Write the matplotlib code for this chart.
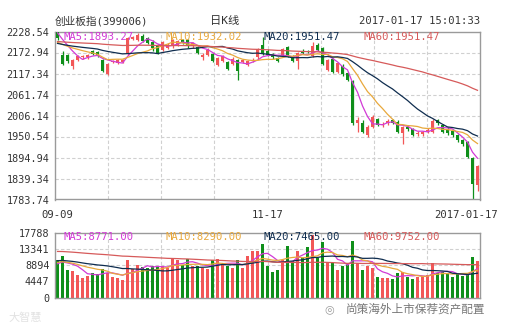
import matplotlib
matplotlib.use("Agg")
import matplotlib.pyplot as plt
import numpy as np
import pandas as pd

# ---------------- data ----------------
opens = [2226, 2167, 2166, 2136, 2154, 2160, 2160, 2176, 2174, 2154,
         2117, 2148, 2145, 2148, 2169, 2209, 2207, 2216, 2211, 2202,
         2194, 2180, 2185, 2189, 2194, 2207, 2207, 2189, 2187, 2160,
         2167, 2169, 2139, 2150, 2148, 2142, 2154, 2149, 2141, 2151,
         2160, 2192, 2178, 2169, 2158, 2165, 2187, 2163, 2150, 2178,
         2177, 2163, 2194, 2185, 2127, 2156, 2122, 2137, 2118, 2098,
         1987, 1985, 1954, 1976, 1996, 1981, 1985, 1994, 1990, 1959,
         1975, 1970, 1957, 1956, 1965, 1963, 1994, 1981, 1968, 1965,
         1954, 1940, 1935, 1894, 1822]
highs = [2228.54, 2178, 2170, 2157, 2166, 2166, 2169, 2179, 2176, 2157,
         2146, 2153, 2157, 2156, 2213, 2217, 2225, 2222, 2214, 2205,
         2196, 2203, 2197, 2210, 2206, 2210, 2210, 2201, 2190, 2172,
         2184, 2172, 2160, 2166, 2151, 2160, 2157, 2156, 2154, 2158,
         2186, 2213, 2181, 2172, 2161, 2186, 2191, 2166, 2175, 2181,
         2180, 2202, 2198, 2188, 2157, 2159, 2147, 2142, 2121, 2100,
         2003, 1995, 1980, 2008, 2000, 1988, 1996, 1998, 1994, 1979,
         1978, 1973, 1964, 1966, 1972, 1996, 1998, 1984, 1976, 1970,
         1957, 1944, 1938, 1897, 1876]
lows = [2206, 2140, 2146, 2130, 2150, 2157, 2157, 2166, 2160, 2122,
        2114, 2145, 2142, 2144, 2166, 2206, 2204, 2200, 2195, 2176,
        2168, 2177, 2182, 2186, 2191, 2195, 2186, 2186, 2169, 2152,
        2164, 2147, 2136, 2147, 2127, 2139, 2099, 2146, 2138, 2148,
        2157, 2166, 2164, 2157, 2147, 2162, 2162, 2147, 2128, 2169,
        2171, 2160, 2177, 2139, 2124, 2118, 2119, 2112, 2097, 1980,
        1963, 1960, 1950, 1972, 1978, 1976, 1982, 1984, 1960, 1932,
        1966, 1951, 1952, 1952, 1960, 1960, 1982, 1960, 1955, 1950,
        1937, 1926, 1894, 1783.74, 1805]
closes = [2211, 2142, 2150, 2154, 2164, 2163, 2167, 2169, 2163, 2125,
          2143, 2150, 2154, 2153, 2211, 2213, 2220, 2204, 2198, 2185,
          2172, 2200, 2194, 2207, 2203, 2198, 2189, 2198, 2172, 2166,
          2180, 2150, 2158, 2163, 2130, 2156, 2125, 2152, 2150, 2154,
          2183, 2169, 2167, 2160, 2150, 2183, 2165, 2150, 2172, 2172,
          2174, 2189, 2180, 2142, 2154, 2121, 2144, 2116, 2100, 1985,
          1994, 1963, 1976, 2003, 1981, 1984, 1992, 1987, 1963, 1976,
          1970, 1954, 1960, 1963, 1968, 1992, 1985, 1963, 1959, 1954,
          1940, 1930, 1896, 1826, 1873]
volumes = [10425, 11537, 7645, 7367, 6255, 5504, 5977, 6894, 6500, 7840,
           6894, 5782, 5365, 4865, 10425, 7840, 9035, 8395, 8100, 8700,
           8600, 8600, 8100, 10620, 10425, 9035, 10620, 8600, 8700, 8100,
           7840, 10425, 10620, 9600, 8600, 8100, 10425, 8100, 11537, 12930,
           12930, 14870, 8600, 7100, 7645, 10425, 14316, 10000, 12930, 10800,
           13850, 17100, 10800, 15240, 9600, 9400, 7645, 8600, 9400, 15510,
           9400, 7645, 8600, 8100, 5782, 5300, 5500, 5100, 6700, 7100,
           5782, 5200, 5782, 5977, 6255, 9400, 6700, 7100, 6700, 5782,
           6500, 5977, 6255, 11070, 10000]

# moving-average values at the first bar
price_ma_start = {5: 2225, 10: 2200, 20: 2197, 60: 2202}
vol_ma_start = {5: 9300, 10: 9700, 20: 10150, 60: 12700}

price_ticks = [1783.74, 1839.34, 1894.94, 1950.54, 2006.14,
               2061.74, 2117.34, 2172.94, 2228.54]
vol_ticks = [0, 4447, 8894, 13341, 17788]
date_labels = ["09-09", "11-17", "2017-01-17"]
date_pos = [0, 42, 84]

title_text = "创业板指(399006)"
period_text = "日K线"
time_text = "2017-01-17 15:01:33"
price_ma_labels = ["MA5:1893.27", "MA10:1932.02", "MA20:1951.47", "MA60:1951.47"]
vol_ma_labels = ["MA5:8771.00", "MA10:8290.00", "MA20:7465.00", "MA60:9752.00"]
watermark = "尚策海外上市保荐资产配置"
logo_text = "大智慧"

# ---------------- styling ----------------
UP = "#f25757"
DOWN = "#0f8f1a"
MA_COLORS = {5: "#d23ad6", 10: "#e8a83c", 20: "#0f2d4f", 60: "#d65a5a"}
GRID = "#d0d0d0"
SPINE = "#9a9a9a"
TXT = "#333333"
MONO = ["DejaVu Sans Mono", "Noto Sans CJK SC"]
FS = 7.3


def moving_average(values, n, start):
    s = pd.Series(values, dtype=float)
    seed = (n * start - s.iloc[0]) / (n - 1)
    padded = pd.concat([pd.Series([seed] * (n - 1)), s], ignore_index=True)
    return padded.rolling(n).mean().iloc[n - 1:].to_numpy()


W, H = 505, 330
fig = plt.figure(figsize=(W / 100, H / 100), dpi=100)
fig.patch.set_facecolor("white")

def rect(x0, y0, x1, y1):
    return [x0 / W, 1 - y1 / H, (x1 - x0) / W, (y1 - y0) / H]

axp = fig.add_axes(rect(55, 31.5, 480, 199.5))
axv = fig.add_axes(rect(55, 233, 480, 297.5))

n = len(closes)
x = np.arange(n)
o = np.array(opens, float)
c = np.array(closes, float)
hi = np.array(highs, float)
lo = np.array(lows, float)
up = c >= o
cols = np.where(up, UP, DOWN)

xlim = (-0.5, n - 0.5)
vgrid = [xlim[0] + k * n / 8 for k in range(1, 8)]

for ax in (axp, axv):
    ax.set_xlim(*xlim)
    for s in ax.spines.values():
        s.set_color(SPINE)
        s.set_linewidth(1.0)
    ax.tick_params(length=0, labelsize=FS, colors=TXT, pad=4)
    ax.set_xticks([])
    for xv in vgrid:
        ax.axvline(xv, color=GRID, lw=0.8, ls=(0, (3, 2)), zorder=0)

# price panel
axp.set_ylim(price_ticks[0], price_ticks[-1])
axp.set_yticks(price_ticks)
axp.set_yticklabels([f"{t:.2f}" for t in price_ticks], family=MONO)
for t in price_ticks[1:-1]:
    axp.axhline(t, color=GRID, lw=0.8, ls=(0, (3, 2)), zorder=0)

axp.vlines(x, lo, hi, colors=cols, lw=0.9, zorder=2)
body_lo = np.minimum(o, c)
body_h = np.maximum(np.abs(c - o), 0.9)
axp.bar(x, body_h, bottom=body_lo, width=0.72, color=cols, zorder=3, linewidth=0)

for k in (5, 10, 20, 60):
    axp.plot(x, moving_average(closes, k, price_ma_start[k]),
             color=MA_COLORS[k], lw=0.9, zorder=4)

# volume panel
axv.set_ylim(vol_ticks[0], vol_ticks[-1])
axv.set_yticks(vol_ticks)
axv.set_yticklabels([str(t) for t in vol_ticks], family=MONO)
for t in vol_ticks[1:-1]:
    axv.axhline(t, color=GRID, lw=0.8, ls=(0, (3, 2)), zorder=0)
axv.bar(x, volumes, width=0.78, color=cols, zorder=2, linewidth=0)
for k in (5, 10, 20, 60):
    axv.plot(x, moving_average(volumes, k, vol_ma_start[k]),
             color=MA_COLORS[k], lw=0.9, zorder=4)

# MA labels
label_x = [64, 165, 264, 364]
for lx, txt, k in zip(label_x, price_ma_labels, (5, 10, 20, 60)):
    fig.text(lx / W, 1 - 37.5 / H, txt, color=MA_COLORS[k], fontsize=FS + 0.3,
             family=MONO, va="center", ha="left", zorder=10)
for lx, txt, k in zip(label_x, vol_ma_labels, (5, 10, 20, 60)):
    fig.text(lx / W, 1 - 237 / H, txt, color=MA_COLORS[k], fontsize=FS + 0.3,
             family=MONO, va="center", ha="left", zorder=10)

# headers
fig.text(55 / W, 1 - 21 / H, title_text, fontsize=FS + 0.4, color=TXT,
         family=MONO, va="center", ha="left")
fig.text(225 / W, 1 - 21 / H, period_text, fontsize=FS + 0.8, color=TXT,
         family=MONO, va="center", ha="center")
fig.text(480 / W, 1 - 21 / H, time_text, fontsize=FS + 0.3, color=TXT,
         family=MONO, va="center", ha="right")

# date labels
px0, px1 = 55, 480
for lab, pos in zip(date_labels, date_pos):
    xp = px0 + (pos + 0.5) / n * (px1 - px0)
    if pos == n - 1:
        fig.text(498 / W, 1 - 215 / H, lab, fontsize=FS + 0.3, color=TXT,
                 family=MONO, va="center", ha="right")
    else:
        fig.text(xp / W, 1 - 215 / H, lab, fontsize=FS + 0.3, color=TXT,
                 family=MONO, va="center", ha="center")

# watermarks
fig.text(346 / W, 1 - 309 / H, watermark, fontsize=8.4, color="#777777",
         family=["Noto Sans CJK SC", "DejaVu Sans"], va="center", ha="left")
fig.text(329 / W, 1 - 309 / H, "◎", fontsize=8, color="#9a9a9a",
         family=["DejaVu Sans"], va="center", ha="center")
fig.text(8 / W, 1 - 318 / H, logo_text, fontsize=8, color="#e2e2e2",
         family=["Noto Sans CJK SC", "DejaVu Sans"], va="center", ha="left")

fig.savefig("out.png", dpi=100)
